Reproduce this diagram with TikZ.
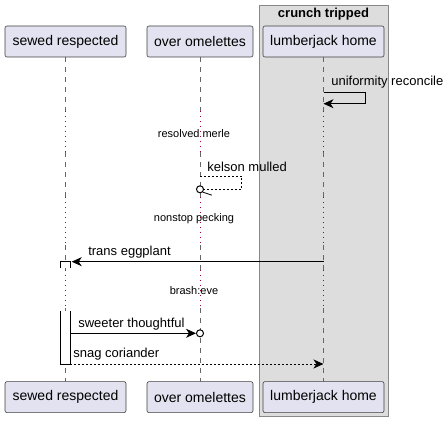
\documentclass[tikz,border=0pt]{standalone}
\usepackage{fontspec}
\setmainfont{Liberation Sans}
\usetikzlibrary{positioning,arrows.meta}
\definecolor{partfill}{HTML}{E2E2F0}
\definecolor{grpfill}{HTML}{DDDDDD}
\definecolor{grpline}{HTML}{888888}
\definecolor{delaydot}{HTML}{A80036}

\begin{document}
\begin{tikzpicture}[x=1pt,y=-1pt,semithick,>={Stealth[length=10pt,width=9pt,inset=3pt]},node distance=324pt]
  \tikzstyle{part}=[draw=black!75,fill=partfill,rounded corners=2pt,line width=0.6pt,minimum height=31pt,inner sep=0pt,font=\fontsize{14}{16}\selectfont]
  \tikzstyle{life}=[draw=black!60,line width=0.6pt,dash pattern=on 5pt off 5pt]
  \tikzstyle{gap}=[draw=delaydot,line width=0.8pt,dash pattern=on 1pt off 4pt]
  \tikzstyle{msg}=[anchor=west,inner sep=0pt,font=\fontsize{13}{15}\selectfont]
  \tikzstyle{note}=[inner sep=0pt,font=\fontsize{11}{13}\selectfont]
  \tikzstyle{call}=[->,line width=0.8pt]
  \tikzstyle{reply}=[call,dash pattern=on 2pt off 2pt]
  \tikzstyle{ring}=[circle,draw,fill=white,line width=1pt,minimum size=7pt,inner sep=0pt]
  \useasboundingbox (0,0) rectangle (448,422);

  % group
  \draw[fill=grpfill,draw=grpline,line width=1pt] (259,6) rectangle (388,417);
  \node [font=\fontsize{13}{15}\selectfont\bfseries] (ct) at (323.5,14) {crunch tripped};

  \node [part,minimum width=121pt] (sr) at (65.5,41.5) {sewed respected};
  \node [part,minimum width=106pt] (oo) at (200,41.5) {over omelettes};
  \node [part,minimum width=121pt] (lh) at (323.5,41.5) {lumberjack home};
  \node [part,minimum width=121pt] (sr2) [below=of sr] {sewed respected};
  \node [part,minimum width=106pt] (oo2) [below=of oo] {over omelettes};
  \node [part,minimum width=121pt] (lh2) [below=of lh] {lumberjack home};

  % lifelines and delays
  \foreach \p in {sr,oo,lh} {
    \foreach \a/\b in {57/111,152/197,245/270,308/382}
      \draw[life] (\p.south |- 0,\a) -- (\p.south |- 0,\b);
    \foreach \a/\b in {111/152,197/245,270/308}
      \draw[gap] (\p.south |- 0,\a) -- (\p.south |- 0,\b);
  }
  \node [note] (rm) at (194,134) {resolved merle};
  \node [note] (np) at (194,219) {nonstop pecking};
  \node [note] (be) at (194,291) {brash:eve};

  % activation
  \draw[fill=white,line width=0.8pt] (60.3,268) -- (60.3,261.7) -- (70.3,261.7) -- (70.3,268);
  \draw[fill=white,line width=0.8pt] (60.3,310.7) -- (60.3,364) -- (70.3,364) -- (70.3,310.7);
  \coordinate (a1) at (71.7,261.7);
  \coordinate (a2) at (70.3,333.3);
  \coordinate (a3) at (70.3,364);

  % messages
  \draw[call] (lh.south |- 0,92) -- (365.7,92) -- (365.7,103.7) -- (lh.south |- 0,103.7);
  \node [msg] (ur) at (331,82) {uniformity reconcile};

  \node [ring] (km) at (oo.south |- 0,189.3) {};
  \draw[line width=0.8pt,dash pattern=on 2pt off 2pt] (oo.south |- 0,176) -- (241.7,176) -- (241.7,189.3) -- (km.east);
  \draw[line width=0.8pt] (km.south east) -- ++(9,3);
  \node [msg] (kl) at (207,167) {kelson mulled};

  \draw[call] (lh.south |- a1) -- (a1);
  \node [msg] (te) at (88,252) {trans eggplant};

  \node [ring] (st) at (oo.south |- a2) {};
  \draw[call] (a2) -- (st.west);
  \node [msg] (sl) at (78,324) {sweeter thoughtful};

  \draw[reply] (a3) -- (lh.south |- a3);
  \node [msg] (sc) at (73,354) {snag coriander};
\end{tikzpicture}
\end{document}
